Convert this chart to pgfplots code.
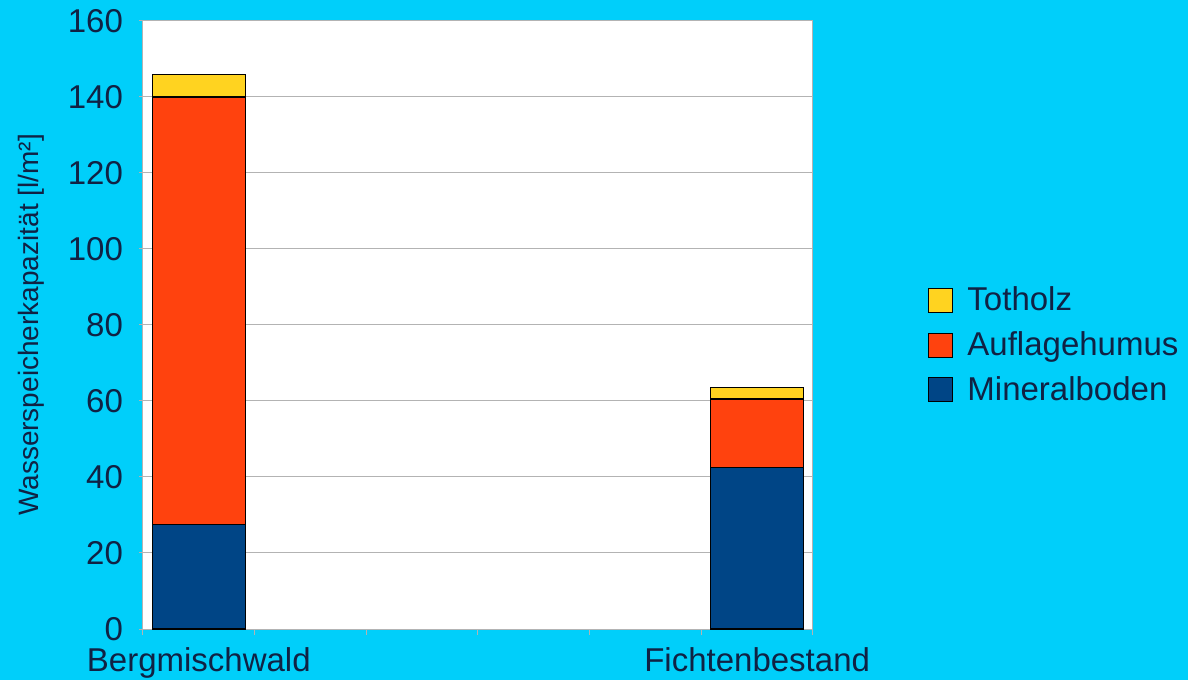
\documentclass[border=0pt]{standalone}
\usepackage{pgfplots}
\pgfplotsset{compat=1.18}
\usepackage{fontspec}
\setmainfont{Liberation Sans}

\definecolor{bgcyan}{RGB}{0,207,250}
\definecolor{txt}{RGB}{16,34,68}
\definecolor{gridgray}{RGB}{179,179,179}
\definecolor{mineral}{HTML}{004586}
\definecolor{humus}{HTML}{FF420E}
\definecolor{totholz}{HTML}{FFD320}

\begin{document}
\begin{tikzpicture}
  % page background
  \fill[bgcyan] (-71.5pt,-25.5pt) rectangle (522.5pt,314.5pt);
  \begin{axis}[
    at={(0pt,0pt)}, anchor=south west,
    scale only axis,
    width=335pt, height=304pt,
    ybar stacked,
    bar width=46.5pt,
    xmin=-0.5, xmax=5.5,
    ymin=0, ymax=160,
    ytick={0,20,...,160},
    xtick={0,5},
    xticklabels={Bergmischwald, Fichtenbestand},
    minor xtick={-0.5,0.5,...,5.5},
    xtick pos=bottom, ytick pos=left,
    major x tick style={draw=none},
    minor x tick style={gridgray, line width=0.5pt},
    y tick style={gridgray, line width=0.5pt},
    tick align=outside,
    major tick length=2pt,
    minor tick length=3pt,
    ymajorgrids,
    grid style={gridgray, line width=0.5pt},
    axis line style={gridgray, line width=0.5pt},
    axis background/.style={fill=white},
    /pgf/number format/assume math mode=true,
    tick label style={font=\fontsize{16.5}{19.8}\selectfont, text=txt},
    xticklabel style={yshift=-4pt},
    yticklabel style={xshift=-4.5pt},
    every axis y label/.style={at={(axis description cs:-0.1672,0.5)}, anchor=center, rotate=90},
    ylabel={Wasserspeicherkapazität [l/m²]},
    label style={font=\fontsize{14}{16.8}\selectfont, text=txt},
    reverse legend,
    legend cell align=left,
    legend style={at={(axis description cs:1.1716,0.467)}, anchor=west,
      draw=none, fill=none, inner sep=0pt, row sep=5pt,
      font=\fontsize{16.5}{19.8}\selectfont, text=txt},
    legend image code/.code={\draw[#1, draw=black, line width=0.5pt] (0pt,-6pt) rectangle (12pt,6pt);
      \path (17pt,0pt);},
    every axis plot/.append style={draw=black, line width=0.6pt},
  ]
    \addplot[fill=mineral] coordinates {(0,27.5) (5,42.5)};
    \addlegendentry{Mineralboden}
    \addplot[fill=humus] coordinates {(0,112.5) (5,18)};
    \addlegendentry{Auflagehumus}
    \addplot[fill=totholz] coordinates {(0,6) (5,3)};
    \addlegendentry{Totholz}
  \end{axis}
  \pgfresetboundingbox
  \path (-71.5pt,-25.5pt) rectangle (522.5pt,314.5pt);
\end{tikzpicture}
\end{document}
